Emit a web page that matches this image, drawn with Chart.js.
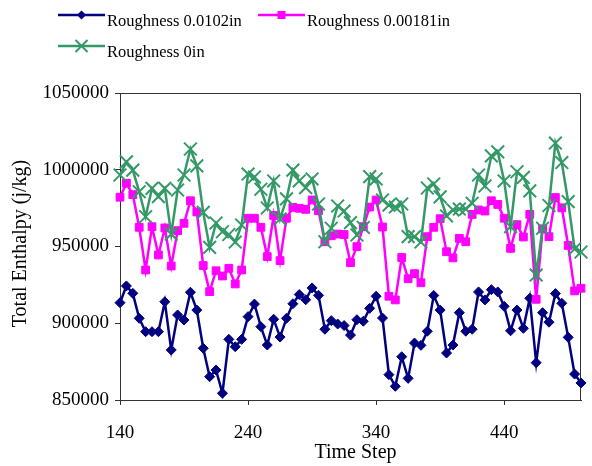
<!DOCTYPE html>
<html>
<head>
<meta charset="utf-8">
<script src="https://cdn.jsdelivr.net/npm/chart.js@4.4.0/dist/chart.umd.min.js"></script>
<style>
  html, body { margin: 0; padding: 0; background: #fff; }
  #wrap { width: 592px; height: 466px; position: relative; }
</style>
</head>
<body>
<div id="wrap"><canvas id="enthalpyChart"></canvas></div>
<script>
// --- data: total enthalpy per time step (sampled every 5 steps) ---
const timeSteps = [
  140, 145, 150, 155, 160, 165, 170, 175, 180, 185,
  190, 195, 200, 205, 210, 215, 220, 225, 230, 235,
  240, 245, 250, 255, 260, 265, 270, 275, 280, 285,
  290, 295, 300, 305, 310, 315, 320, 325, 330, 335,
  340, 345, 350, 355, 360, 365, 370, 375, 380, 385,
  390, 395, 400, 405, 410, 415, 420, 425, 430, 435,
  440, 445, 450, 455, 460, 465, 470, 475, 480, 485,
  490, 495, 500
];

const rough0102 = [
  913400, 924300, 919500, 903200, 894500, 894500, 894500, 914000, 882600, 905400,
  902100, 920200, 908600, 883700, 865200, 869500, 854400, 889500, 884700, 889500,
  904300, 912500, 897800, 885800, 902600, 891000, 903200, 912700, 918700, 915300,
  923000, 918200, 896100, 901700, 899500, 898500, 892300, 902300, 901300, 909700,
  917600, 903400, 866500, 858900, 878200, 864100, 887100, 885600, 894800, 918100,
  908600, 880600, 885800, 906900, 894800, 896100, 920400, 915200, 921900, 920400,
  911000, 895100, 908600, 896700, 916300, 874300, 906900, 900700, 919300, 913000,
  890800, 866900, 861100
];

const rough00181 = [
  982100, 991200, 983800, 962500, 934700, 962900, 944500, 962100, 937300, 960300,
  965100, 979800, 972500, 937600, 920600, 934200, 930800, 935800, 925600, 934700,
  968400, 968400, 962500, 943400, 970200, 940800, 968400, 975500, 974900, 974200,
  980300, 973300, 953100, 957000, 958100, 957800, 939500, 949900, 962900, 975700,
  980300, 962700, 917600, 915200, 942800, 929000, 932300, 926400, 956400, 962500,
  968100, 946600, 942600, 955300, 953100, 970900, 973800, 973100, 979800, 977400,
  968400, 948800, 964200, 956200, 970900, 915600, 961500, 956400, 981900, 975200,
  950700, 921100, 922800
];

const rough0 = [
  996600, 1005100, 999800, 985700, 969400, 987900, 982500, 987900, 958100, 986800,
  996600, 1013500, 1002500, 972200, 949400, 965300, 959600, 957800, 952900, 964000,
  997200, 995300, 987300, 975100, 992700, 967900, 981000, 999800, 992700, 988400,
  994000, 977700, 953100, 961900, 976400, 973100, 965600, 957500, 962400, 995500,
  994000, 980300, 977000, 975700, 977700, 956400, 956400, 952900, 988100, 990700,
  982300, 969900, 973800, 974400, 974400, 978200, 996600, 989400, 1009000, 1011600,
  992700, 962900, 998700, 995000, 986200, 931400, 961900, 976700, 1017400, 1004700,
  979200, 948400, 946400
];

const seriesNames = ['Roughness 0.0102in', 'Roughness 0.00181in', 'Roughness 0in'];
const xTicks = [140, 240, 340, 440];
const yMin = 850000;
const yMax = 1050000;
const yStep = 50000;
const xTitle = 'Time Step';
const yTitle = 'Total Enthalpy (j/kg)';

const SERIF = '"Liberation Serif", "Times New Roman", serif';
const AXIS_COLOR = '#333';

function toPoints(values) {
  return values.map((v, i) => ({ x: timeSteps[i], y: v }));
}

// marker used in the legend keys
function drawMarker(ctx, style, x, y, r, color) {
  ctx.fillStyle = color;
  ctx.strokeStyle = color;
  ctx.beginPath();
  if (style === 'rectRot') {
    ctx.moveTo(x - r, y); ctx.lineTo(x, y - r); ctx.lineTo(x + r, y); ctx.lineTo(x, y + r);
    ctx.closePath(); ctx.fill();
  } else if (style === 'rect') {
    ctx.rect(x - r, y - r, 2 * r, 2 * r); ctx.fill();
  } else {
    ctx.lineWidth = 2;
    ctx.moveTo(x - r, y - r); ctx.lineTo(x + r, y + r);
    ctx.moveTo(x + r, y - r); ctx.lineTo(x - r, y + r);
    ctx.stroke();
  }
}

// legend in two rows above the plot
const legendKeys = {
  id: 'legendKeys',
  afterDraw(chart) {
    const ctx = chart.ctx;
    const spots = [[58, 15], [258, 15], [58, 46]];
    const keySize = [4.5, 4, 6];
    ctx.save();
    chart.data.datasets.forEach((ds, i) => {
      const [x, y] = spots[i];
      ctx.strokeStyle = ds.borderColor;
      ctx.lineWidth = ds.borderWidth;
      ctx.beginPath();
      ctx.moveTo(x, y); ctx.lineTo(x + 47, y);
      ctx.stroke();
      drawMarker(ctx, ds.pointStyle, x + 23.5, y, keySize[i], ds.borderColor);
      ctx.fillStyle = '#000';
      ctx.font = '16.5px ' + SERIF;
      ctx.textBaseline = 'alphabetic';
      ctx.textAlign = 'left';
      ctx.fillText(ds.label, x + 49, y + 10.5);
    });
    ctx.restore();
  }
};

// axis titles, placed by hand so they sit where the old plot had them
const axisTitles = {
  id: 'axisTitles',
  afterDraw(chart) {
    const ctx = chart.ctx;
    const a = chart.chartArea;
    ctx.save();
    ctx.fillStyle = '#000';
    ctx.font = '20px ' + SERIF;
    ctx.textAlign = 'center';
    ctx.textBaseline = 'alphabetic';
    ctx.fillText(xTitle, (a.left + a.right) / 2 + 5, 457.5);
    ctx.translate(25.5, (a.top + a.bottom) / 2 - 3);
    ctx.rotate(-Math.PI / 2);
    ctx.fillText(yTitle, 0, 0);
    ctx.restore();
  }
};

// top and right edges of the plot box
const plotFrame = {
  id: 'plotFrame',
  beforeDatasetsDraw(chart) {
    const { ctx, chartArea: a } = chart;
    ctx.save();
    ctx.strokeStyle = AXIS_COLOR;
    ctx.lineWidth = 1;
    ctx.beginPath();
    ctx.moveTo(a.left, a.top + 0.5);
    ctx.lineTo(a.right - 0.5, a.top + 0.5);
    ctx.lineTo(a.right - 0.5, a.bottom);
    ctx.stroke();
    ctx.restore();
  }
};

const datasets = [
  {
    label: seriesNames[0],
    data: toPoints(rough0102),
    borderColor: '#000080',
    backgroundColor: '#000080',
    borderWidth: 2.5,
    pointStyle: 'rectRot',
    pointRadius: 5,
    pointBackgroundColor: '#000080',
    pointBorderColor: '#000080',
    pointBorderWidth: 1,
    order: 2
  },
  {
    label: seriesNames[1],
    data: toPoints(rough00181),
    borderColor: '#ff00ff',
    backgroundColor: '#ff00ff',
    borderWidth: 2.5,
    pointStyle: 'rect',
    pointRadius: 5.5,
    pointBackgroundColor: '#ff00ff',
    pointBorderColor: '#ff00ff',
    pointBorderWidth: 1,
    order: 1
  },
  {
    label: seriesNames[2],
    data: toPoints(rough0),
    borderColor: '#339966',
    backgroundColor: '#339966',
    borderWidth: 2.5,
    pointStyle: 'crossRot',
    pointRadius: 9,
    pointBackgroundColor: '#339966',
    pointBorderColor: '#339966',
    pointBorderWidth: 2,
    order: 0
  }
];

new Chart(document.getElementById('enthalpyChart'), {
  type: 'line',
  data: { datasets: datasets.map(ds => Object.assign({ clip: false, tension: 0, fill: false }, ds)) },
  plugins: [plotFrame, legendKeys, axisTitles],
  options: {
    responsive: true,
    maintainAspectRatio: false,
    animation: false,
    devicePixelRatio: 1,
    layout: { padding: { left: 0, right: 4, top: 93, bottom: 0 } },
    plugins: {
      legend: { display: false },
      tooltip: { enabled: false }
    },
    scales: {
      x: {
        type: 'linear',
        min: 140,
        max: 500,
        afterBuildTicks(scale) {
          scale.ticks = xTicks.map(v => ({ value: v }));
        },
        afterFit(scale) { scale.height = 66; },
        grid: { display: true, drawOnChartArea: false, drawTicks: true, tickLength: 5, color: AXIS_COLOR },
        border: { display: true, color: AXIS_COLOR, width: 1 },
        ticks: {
          color: '#000',
          font: { family: SERIF, size: 19 },
          padding: 17,
          maxRotation: 0,
          autoSkip: false,
          callback: v => String(v)
        }
      },
      y: {
        min: yMin,
        max: yMax,
        afterFit(scale) { scale.width = 120; },
        grid: { display: true, drawOnChartArea: false, drawTicks: true, tickLength: 5, color: AXIS_COLOR },
        border: { display: true, color: AXIS_COLOR, width: 1 },
        ticks: {
          stepSize: yStep,
          color: '#000',
          font: { family: SERIF, size: 19 },
          padding: 6,
          callback: v => String(v)
        }
      }
    }
  }
});
</script>
</body>
</html>
